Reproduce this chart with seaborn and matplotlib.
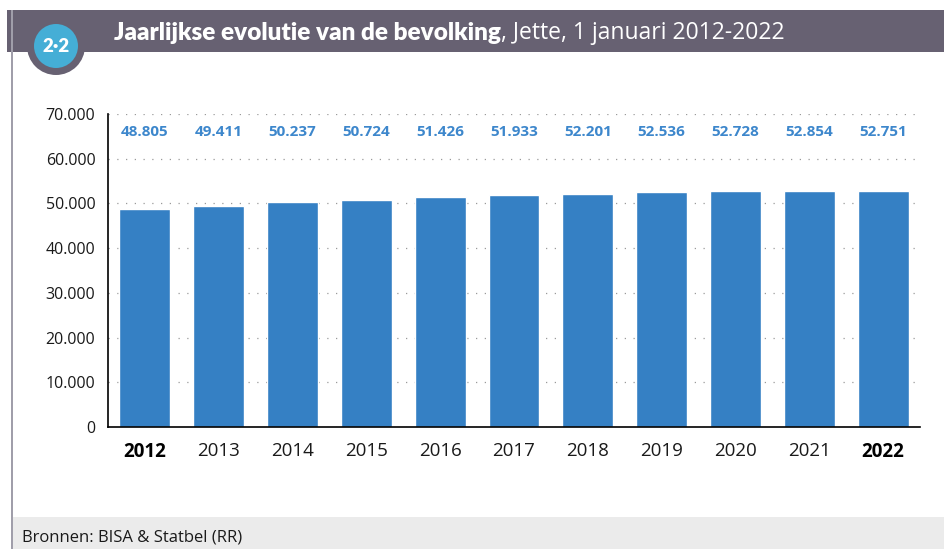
import matplotlib
matplotlib.use('AGG')
import matplotlib.pyplot as plt
import seaborn as sns
import pandas as pd
from matplotlib.patches import Rectangle, Ellipse
from matplotlib.ticker import FuncFormatter

years = ['2012', '2013', '2014', '2015', '2016', '2017', '2018', '2019', '2020', '2021', '2022']
population = [48805, 49411, 50237, 50724, 51426, 51933, 52201, 52536, 52728, 52854, 52751]
y_ticks = [0, 10000, 20000, 30000, 40000, 50000, 60000, 70000]

title_bold = 'Jaarlijkse evolutie van de bevolking'
title_rest = ', Jette, 1 januari 2012-2022'
source = 'Bronnen: BISA & Statbel (RR)'

sns.set_style('white')
plt.rcParams['font.family'] = ['Open Sans', 'DejaVu Sans']

W, H = 945, 549
fig = plt.figure(figsize=(W / 100, H / 100), dpi=100)
ax = fig.add_axes([108 / W, 1 - 427 / H, (920 - 108) / W, (427 - 114) / H])

df = pd.DataFrame({'year': years, 'population': population})
sns.barplot(data=df, x='year', y='population', color='#3580c4', saturation=1,
            width=0.69, ax=ax)

ax.set_ylim(0, 70000)
ax.set_xlim(-0.5, 10.5)
ax.set_yticks(y_ticks)
ax.yaxis.set_major_formatter(FuncFormatter(lambda v, p: f'{int(v):,}'.replace(',', '.')))
ax.set_xlabel('')
ax.set_ylabel('')
ax.tick_params(axis='y', labelsize=11.5, length=0, pad=9, labelcolor='#1a1a1a')
ax.tick_params(axis='x', labelsize=13.5, length=0, pad=11, labelcolor='#1a1a1a')
for lbl in ax.get_xticklabels():
    if lbl.get_text() in ('2012', '2022'):
        lbl.set_fontweight('bold')
        lbl.set_color('black')

ax.yaxis.grid(True, linestyle=(0, (1, 6)), color='#9a9a9a', linewidth=0.9)
ax.set_axisbelow(True)
for side in ('top', 'right'):
    ax.spines[side].set_visible(False)
for side in ('left', 'bottom'):
    ax.spines[side].set_color('black')
    ax.spines[side].set_linewidth(1.2)

for i, v in enumerate(population):
    ax.text(i, 66000, f'{v:,}'.replace(',', '.'), ha='center', va='center',
            color='#3d87cc', fontsize=11, fontweight='bold')

# header band, frame line, footer
fig.add_artist(Rectangle((7 / W, 1 - 52 / H), 1, 42 / H, transform=fig.transFigure,
                         facecolor='#676172', edgecolor='none', zorder=0))
fig.add_artist(Rectangle((11 / W, 0), 2 / W, 1 - 10 / H, transform=fig.transFigure,
                         facecolor='#a09eaa', edgecolor='none', zorder=0))
fig.add_artist(Rectangle((13 / W, 0), 1, 32 / H, transform=fig.transFigure,
                         facecolor='#ebebeb', edgecolor='none', zorder=0))
fig.add_artist(Ellipse((56 / W, 1 - 46 / H), 58 / W, 58 / H, transform=fig.transFigure,
                       facecolor='#676172', edgecolor='none', zorder=1))
fig.add_artist(Ellipse((56 / W, 1 - 46 / H), 44 / W, 44 / H, transform=fig.transFigure,
                       facecolor='#45aed6', edgecolor='none', zorder=2))
fig.text(56 / W, 1 - 47 / H, '2·2', ha='center', va='center', color='white',
         fontsize=13.5, fontweight='heavy', family=['Lato', 'DejaVu Sans'], zorder=3)

t1 = fig.text(114 / W, 1 - 33 / H, title_bold, ha='left', va='center', color='white',
              fontsize=17.5, fontweight='heavy', family=['Lato', 'DejaVu Sans'])
fig.canvas.draw()
bb = t1.get_window_extent()
fig.text(bb.x1 / W, 1 - 33 / H, title_rest, ha='left', va='center', color='white',
         fontsize=16.5, family=['Open Sans', 'DejaVu Sans'])

fig.text(22 / W, 1 - 537 / H, source, ha='left', va='center', color='#1a1a1a',
         fontsize=12)

fig.savefig('out.png', dpi=100)
plt.close(fig)
